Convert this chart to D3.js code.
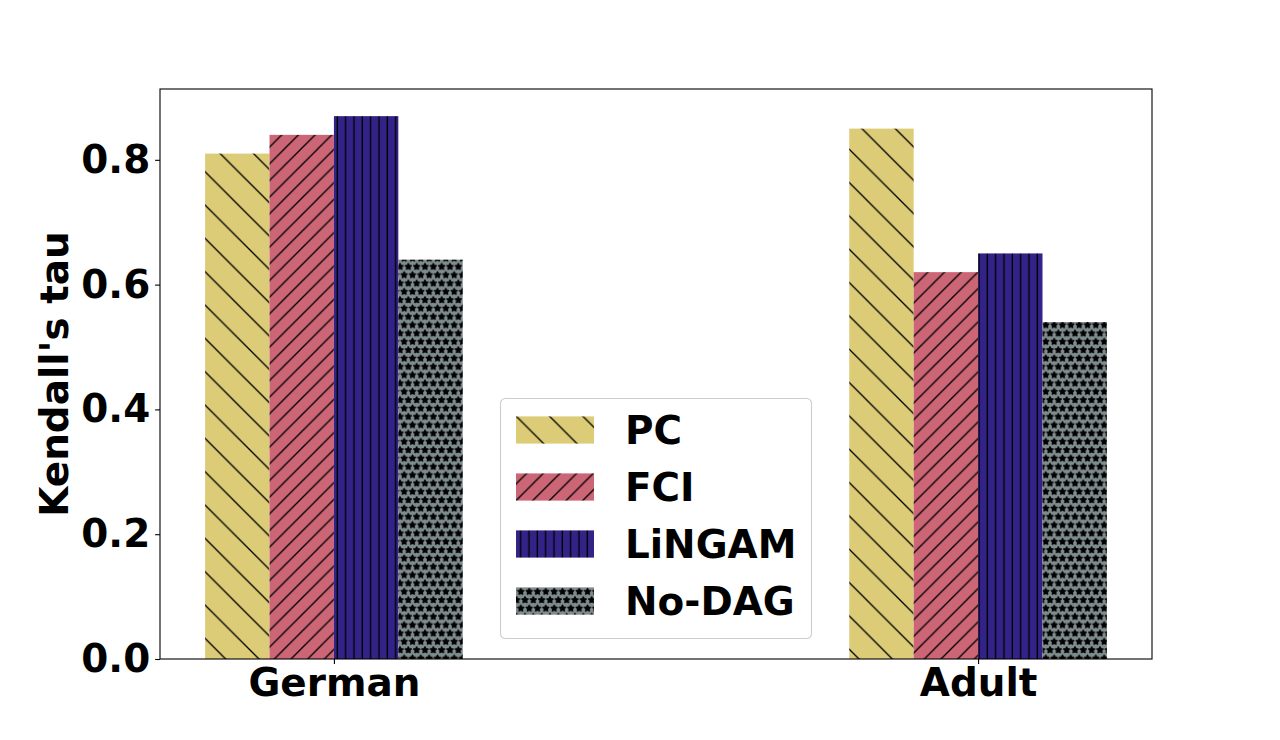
<!DOCTYPE html>
<html>
<head>
<meta charset="utf-8">
<script src="https://cdn.jsdelivr.net/npm/d3@7"></script>
<style>
  html, body { margin: 0; padding: 0; background: #fff; }
  svg text { font-family: "DejaVu Sans", sans-serif; font-weight: bold; }
</style>
</head>
<body>
<svg id="chart" width="1280" height="740"></svg>
<script>
// ---- data ----
const groups = ["German", "Adult"];
const methods = ["PC", "FCI", "LiNGAM", "No-DAG"];
const valuesPC     = [0.81, 0.85];
const valuesFCI    = [0.84, 0.62];
const valuesLiNGAM = [0.87, 0.65];
const valuesNoDAG  = [0.64, 0.54];
const yTicks = [0.0, 0.2, 0.4, 0.6, 0.8];
const yTickLabels = ["0.0", "0.2", "0.4", "0.6", "0.8"];

const series = [valuesPC, valuesFCI, valuesLiNGAM, valuesNoDAG];
const colors = ["#DDCC77", "#CC6677", "#332288", "#7F8C8D"];
const patternIds = ["hPC", "hFCI", "hLiNGAM", "hNoDAG"];
const barWidth = 0.1;
const offsets = [-0.2, -0.1, 0.0, 0.1];

// ---- layout ----
const L = 160, R = 1152, T = 89, B = 659;
const FS = 38.9;
const svg = d3.select("#chart");

const yMax = d3.max(series.flat()) * 1.05;
const x = d3.scaleLinear().domain([-0.27, 1.27]).range([L, R]);
const y = d3.scaleLinear().domain([0, yMax]).range([B, T]);

// ---- hatch patterns (user-space, page-aligned) ----
const defs = svg.append("defs");
const hw = 1.35;
// PC "\"
{
  const s = 100 / 3;
  const p = defs.append("pattern").attr("id", "hPC").attr("patternUnits", "userSpaceOnUse")
    .attr("width", s).attr("height", s);
  p.append("rect").attr("width", s).attr("height", s).attr("fill", colors[0]);
  p.append("path").attr("d", `M-5,-5 L${s+5},${s+5} M-5,${s-5} L5,${s+5} M${s-5},-5 L${s+5},5`)
    .attr("stroke", "#000").attr("stroke-width", hw);
}
// FCI "//"
{
  const s = 100 / 6;
  const p = defs.append("pattern").attr("id", "hFCI").attr("patternUnits", "userSpaceOnUse")
    .attr("width", s).attr("height", s);
  p.append("rect").attr("width", s).attr("height", s).attr("fill", colors[1]);
  p.append("path").attr("d", `M-3,${s+3} L${s+3},-3 M-3,3 L3,-3 M${s-3},${s+3} L${s+3},${s-3}`)
    .attr("stroke", "#000").attr("stroke-width", hw);
}
// LiNGAM "||"
{
  const s = 100 / 12;
  const p = defs.append("pattern").attr("id", "hLiNGAM").attr("patternUnits", "userSpaceOnUse")
    .attr("width", s).attr("height", s);
  p.append("rect").attr("width", s).attr("height", s).attr("fill", colors[2]);
  p.append("path").attr("d", `M4,-1 L4,${s+1}`).attr("stroke", "#000").attr("stroke-width", hw);
}
// No-DAG "**"
{
  const s = 100 / 12;
  const p = defs.append("pattern").attr("id", "hNoDAG").attr("patternUnits", "userSpaceOnUse")
    .attr("width", s).attr("height", 2 * s);
  p.append("rect").attr("width", s).attr("height", 2 * s).attr("fill", colors[3]);
  const rO = 3.15, rI = rO * 0.5;
  const star = (cx, cy) => {
    let pts = [];
    for (let k = 0; k < 10; k++) {
      const a = -Math.PI / 2 + k * Math.PI / 5;
      const r = k % 2 === 0 ? rO : rI;
      pts.push([cx + r * Math.cos(a), cy + r * Math.sin(a)]);
    }
    return "M" + pts.map(q => q.join(",")).join("L") + "Z";
  };
  const centers = [[0, 0], [s, 0], [0, 2 * s], [s, 2 * s], [s / 2, s], [s/2, -s], [s/2, 3*s], [-s/2, s], [1.5*s, s]];
  p.append("path").attr("d", centers.map(c => star(c[0], c[1])).join(""))
    .attr("fill", "#000").attr("stroke", "#000").attr("stroke-width", 1.35).attr("stroke-linejoin", "round");
}

// ---- bars ----
series.forEach((vals, i) => {
  svg.append("g").selectAll("rect").data(vals).join("rect")
    .attr("x", (d, gi) => x(gi + offsets[i]))
    .attr("width", (d, gi) => x(gi + offsets[i] + barWidth) - x(gi + offsets[i]))
    .attr("y", d => y(d))
    .attr("height", d => y(0) - y(d))
    .attr("fill", `url(#${patternIds[i]})`);
});

// ---- axes ----
const yAxis = d3.axisLeft(y).tickValues(yTicks).tickFormat((d, i) => yTickLabels[i])
  .tickSize(4.9).tickPadding(4.9);
const gy = svg.append("g").attr("transform", `translate(${L},0)`).call(yAxis);
gy.select(".domain").remove();
gy.selectAll("line").attr("stroke", "#000").attr("stroke-width", 1.1);
gy.selectAll("text").attr("font-size", FS).attr("font-family", "DejaVu Sans").attr("font-weight", "bold").attr("fill", "#000");

const xAxis = d3.axisBottom(x).tickValues([0, 1]).tickFormat((d, i) => groups[i])
  .tickSize(4.9).tickPadding(4.9);
const gx = svg.append("g").attr("transform", `translate(0,${B})`).call(xAxis);
gx.select(".domain").remove();
gx.selectAll("line").attr("stroke", "#000").attr("stroke-width", 1.1);
gx.selectAll("text").attr("font-size", FS).attr("font-family", "DejaVu Sans").attr("font-weight", "bold").attr("fill", "#000");

// spines
svg.append("rect").attr("x", L).attr("y", T).attr("width", R - L).attr("height", B - T)
  .attr("fill", "none").attr("stroke", "#000").attr("stroke-width", 1.1);

// y label
svg.append("text").attr("transform", `translate(68,${(T + B) / 2}) rotate(-90)`)
  .attr("text-anchor", "middle").attr("font-size", FS).attr("fill", "#000")
  .text("Kendall's tau");

// ---- legend ----
const lg = svg.append("g");
const lgX = 500.5, lgY = 398.5, lgW = 311, lgH = 240;
lg.append("rect").attr("x", lgX).attr("y", lgY).attr("width", lgW).attr("height", lgH)
  .attr("rx", 5).attr("fill", "#fff").attr("fill-opacity", 0.8)
  .attr("stroke", "#cccccc").attr("stroke-width", 1.1);
const rowY = d3.scaleLinear().domain([0, 3]).range([430, 601]);
methods.forEach((m, i) => {
  lg.append("rect").attr("x", 516).attr("y", rowY(i) - 13.6).attr("width", 78).attr("height", 27.2)
    .attr("fill", `url(#${patternIds[i]})`);
  lg.append("text").attr("x", 625).attr("y", rowY(i)).attr("dy", "0.36em")
    .attr("font-size", FS).attr("fill", "#000").text(m);
});
</script>
</body>
</html>
